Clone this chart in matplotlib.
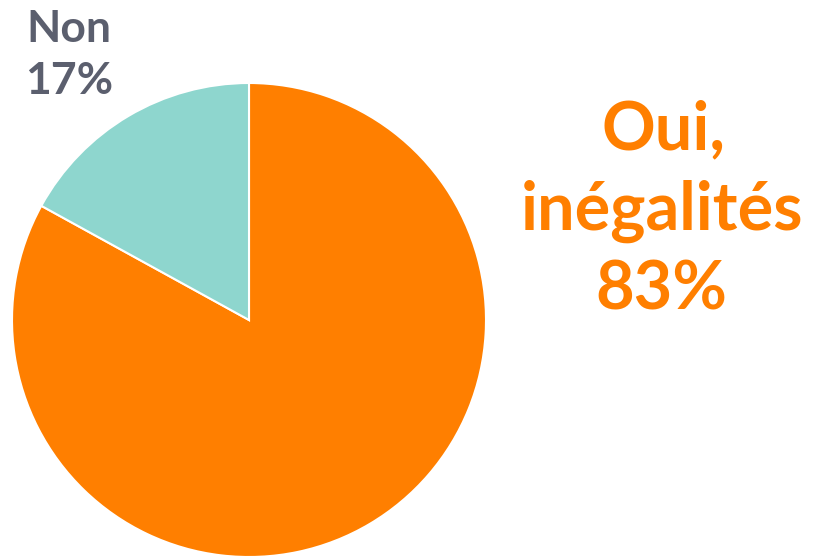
import matplotlib
matplotlib.use('Agg')
import matplotlib.pyplot as plt

labels = ['Oui, inégalités', 'Non']
values = [83, 17]
colors = ['#FF7F00', '#8ED6CE']

fig = plt.figure(figsize=(8.2, 5.57), dpi=100)
ax = fig.add_axes([0, 0, 1, 1])
ax.set_xlim(0, 820)
ax.set_ylim(0, 557)
ax.set_aspect('equal')
ax.axis('off')

ax.pie(values, colors=colors, startangle=90, counterclock=False,
       center=(249, 237), radius=237, frame=True,
       wedgeprops=dict(edgecolor='white', linewidth=1.5))
ax.set_xlim(0, 820)
ax.set_ylim(0, 557)
ax.axis('off')

font = 'Lato'
ax.text(69, 528, 'Non', ha='center', va='center', fontsize=32,
        fontweight='bold', color='#5B5F6E', family=font)
ax.text(69, 476, '%d%%' % values[1], ha='center', va='center', fontsize=32,
        fontweight='bold', color='#5B5F6E', family=font)

ax.text(664, 427, 'Oui,', ha='center', va='center', fontsize=48,
        fontweight='bold', color='#FF7F00', family=font)
ax.text(662, 346, 'inégalités', ha='center', va='center', fontsize=48,
        fontweight='bold', color='#FF7F00', family=font)
ax.text(661, 267, '%d%%' % values[0], ha='center', va='center', fontsize=48,
        fontweight='bold', color='#FF7F00', family=font)

fig.savefig('out.png', dpi=100)
